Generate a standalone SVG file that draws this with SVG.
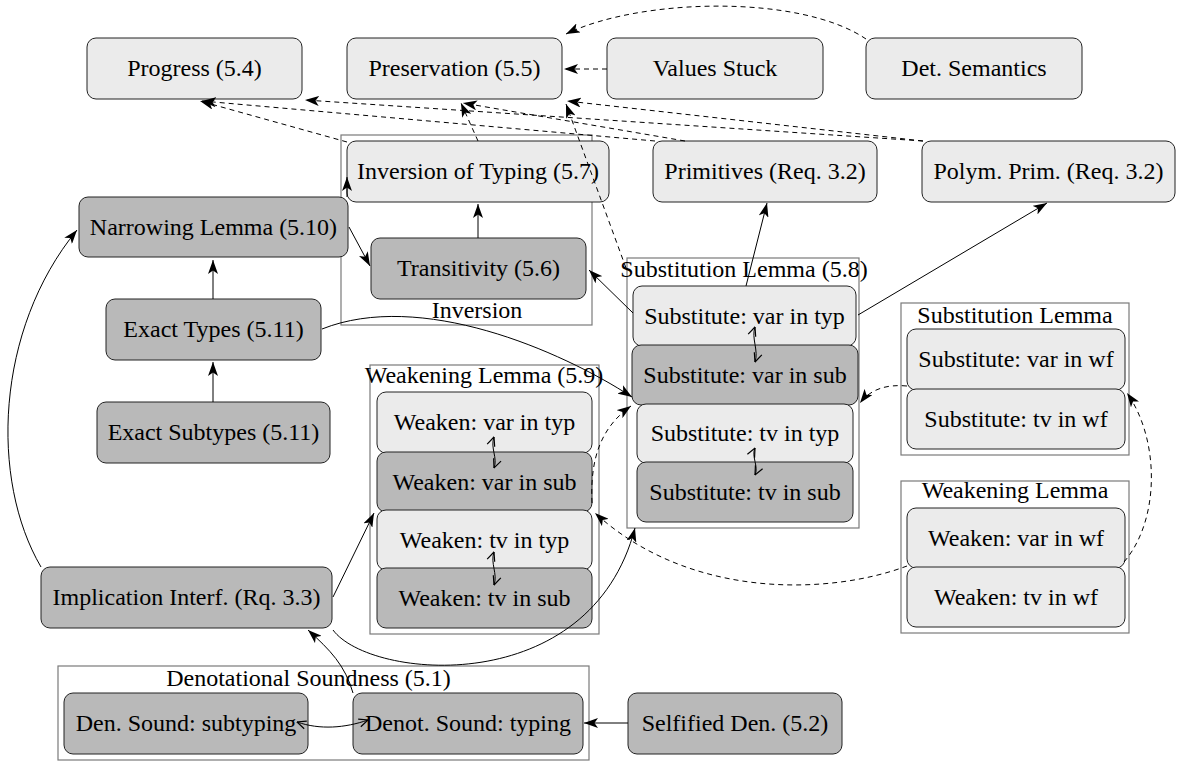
<svg xmlns="http://www.w3.org/2000/svg" width="1177" height="761" viewBox="0 0 1177 761">
<style>
text{font-family:"Liberation Serif","Times New Roman",serif;font-size:24px;fill:#000;text-anchor:middle}
.n rect{stroke:#222;stroke-width:1}
.l rect{fill:#ebebeb}
.k rect{fill:#b9b9b9}
.c{fill:none;stroke:#7a7a7a;stroke-width:1.2}
.e path{fill:none;stroke:#000;stroke-width:1}
.e .d{stroke-dasharray:5,4;marker-end:url(#ah)}
.e .s{marker-end:url(#ah)}
.e .b{marker-start:url(#vee);marker-end:url(#vee)}
</style>
<defs>
<marker id="ah" viewBox="0 0 14 10" refX="14" refY="5" markerWidth="14" markerHeight="10" orient="auto" markerUnits="userSpaceOnUse"><path d="M0,0 L14,5 L0,10 L3.5,5 z" fill="#000"/></marker>
<marker id="vee" viewBox="0 0 10 10" refX="9.5" refY="5" markerWidth="10" markerHeight="10" orient="auto-start-reverse" markerUnits="userSpaceOnUse"><path d="M0.5,1 L9.5,5 L0.5,9" fill="none" stroke="#000" stroke-width="1.2"/></marker>
</defs>
<rect width="1177" height="761" fill="#fff"/>
<g id="clusters">
<g id="cl-inversion"><rect class="c" x="341" y="135" width="251" height="190"/><text x="477" y="318">Inversion</text></g>
<g id="cl-weak59"><rect class="c" x="370" y="365" width="229" height="269"/><text x="484" y="383">Weakening Lemma (5.9)</text></g>
<g id="cl-subst58"><rect class="c" x="627" y="258" width="232" height="270"/><text x="744" y="277">Substitution Lemma (5.8)</text></g>
<g id="cl-subst"><rect class="c" x="901" y="303" width="228" height="152"/><text x="1015" y="323">Substitution Lemma</text></g>
<g id="cl-weak"><rect class="c" x="901" y="481" width="228" height="152"/><text x="1015" y="498">Weakening Lemma</text></g>
<g id="cl-denot"><rect class="c" x="58" y="666" width="531" height="94"/><text x="308.5" y="686">Denotational Soundness (5.1)</text></g>
</g>
<g id="nodes">
<g id="progress" class="n l"><rect x="87" y="38" width="215" height="61" rx="9"/><text x="194.5" y="76">Progress (5.4)</text></g>
<g id="preservation" class="n l"><rect x="347" y="38" width="215" height="61" rx="9"/><text x="454.5" y="76">Preservation (5.5)</text></g>
<g id="values-stuck" class="n l"><rect x="607" y="38" width="216" height="61" rx="9"/><text x="715" y="76">Values Stuck</text></g>
<g id="det-sem" class="n l"><rect x="866" y="38" width="216" height="61" rx="9"/><text x="974" y="76">Det. Semantics</text></g>
<g id="inv-typing" class="n l"><rect x="347" y="141" width="262" height="61" rx="9"/><text x="478" y="179">Inversion of Typing (5.7)</text></g>
<g id="primitives" class="n l"><rect x="653" y="141" width="224" height="61" rx="9"/><text x="765" y="179">Primitives (Req. 3.2)</text></g>
<g id="polym-prim" class="n l"><rect x="922" y="141" width="253" height="61" rx="9"/><text x="1048.5" y="179">Polym. Prim. (Req. 3.2)</text></g>
<g id="narrowing" class="n k"><rect x="79" y="197" width="269" height="60" rx="9"/><text x="213.5" y="234.5">Narrowing Lemma (5.10)</text></g>
<g id="transitivity" class="n k"><rect x="371" y="238" width="215" height="61" rx="9"/><text x="478.5" y="276">Transitivity (5.6)</text></g>
<g id="exact-types" class="n k"><rect x="106" y="299" width="215" height="61" rx="9"/><text x="213.5" y="337">Exact Types (5.11)</text></g>
<g id="exact-subtypes" class="n k"><rect x="97" y="402" width="233" height="61" rx="9"/><text x="213.5" y="440">Exact Subtypes (5.11)</text></g>
<g id="implication" class="n k"><rect x="41" y="567" width="291" height="61" rx="9"/><text x="186.5" y="605">Implication Interf. (Rq. 3.3)</text></g>
<g id="weaken-var-typ" class="n l"><rect x="377" y="392" width="215" height="61" rx="9"/><text x="484.5" y="430">Weaken: var in typ</text></g>
<g id="weaken-var-sub" class="n k"><rect x="377" y="452" width="215" height="60" rx="9"/><text x="484.5" y="489.5">Weaken: var in sub</text></g>
<g id="weaken-tv-typ" class="n l"><rect x="377" y="510" width="215" height="60" rx="9"/><text x="484.5" y="547.5">Weaken: tv in typ</text></g>
<g id="weaken-tv-sub" class="n k"><rect x="377" y="568" width="215" height="60" rx="9"/><text x="484.5" y="605.5">Weaken: tv in sub</text></g>
<g id="subst-var-typ" class="n l"><rect x="633" y="286" width="223" height="60" rx="9"/><text x="744.5" y="323.5">Substitute: var in typ</text></g>
<g id="subst-var-sub" class="n k"><rect x="632" y="345" width="226" height="60" rx="9"/><text x="745" y="382.5">Substitute: var in sub</text></g>
<g id="subst-tv-typ" class="n l"><rect x="637" y="404" width="216" height="59" rx="9"/><text x="745" y="441">Substitute: tv in typ</text></g>
<g id="subst-tv-sub" class="n k"><rect x="637" y="462" width="216" height="60" rx="9"/><text x="745" y="499.5">Substitute: tv in sub</text></g>
<g id="subst-var-wf" class="n l"><rect x="907" y="329" width="218" height="61" rx="9"/><text x="1016" y="367">Substitute: var in wf</text></g>
<g id="subst-tv-wf" class="n l"><rect x="907" y="389" width="218" height="60" rx="9"/><text x="1016" y="426.5">Substitute: tv in wf</text></g>
<g id="weaken-var-wf" class="n l"><rect x="907" y="508" width="218" height="60" rx="9"/><text x="1016" y="545.5">Weaken: var in wf</text></g>
<g id="weaken-tv-wf" class="n l"><rect x="907" y="567" width="218" height="60" rx="9"/><text x="1016" y="604.5">Weaken: tv in wf</text></g>
<g id="den-subtyping" class="n k"><rect x="64" y="693" width="244" height="61" rx="9"/><text x="186" y="731">Den. Sound: subtyping</text></g>
<g id="denot-typing" class="n k"><rect x="353" y="693" width="230" height="61" rx="9"/><text x="468" y="731">Denot. Sound: typing</text></g>
<g id="selfified" class="n k"><rect x="628" y="693" width="214" height="61" rx="9"/><text x="735" y="731">Selfified Den. (5.2)</text></g>
</g>
<g id="connectors" class="e">
<path class="d" d="M866,39 C800,-6 640,-2 566,34"/>
<path class="d" d="M607,69 L564,69"/>
<path class="d" d="M347,142 L200,101"/>
<path class="d" d="M655,141 L202,101"/>
<path class="d" d="M923,141 L305,100"/>
<path class="d" d="M478,141 L461,103"/>
<path class="d" d="M685,141 L463,103"/>
<path class="d" d="M923,141 L567,101"/>
<path class="d" d="M626,268 L566,104"/>
<path class="d" d="M592,503 C590,460 600,428 631,406"/>
<path class="d" d="M907,386 C885,384 870,390 860,403"/>
<path class="d" d="M907,566 C830,595 690,600 595,513"/>
<path class="d" d="M1124,562 C1160,520 1160,440 1127,393"/>
<path class="s" d="M478,238 L478,204"/>
<path class="s" d="M347,197 L347,177"/>
<path class="s" d="M349,227 L370,266"/>
<path class="s" d="M213,299 L213,260"/>
<path class="s" d="M213,402 L213,362"/>
<path class="s" d="M41,567 C-10,480 -5,330 77,230"/>
<path class="s" d="M333,597 L374,513"/>
<path class="s" d="M333,630 C370,680 590,700 635,528"/>
<path class="s" d="M353,693 C345,665 330,650 308,630"/>
<path class="s" d="M628,723 L584,723"/>
<path class="s" d="M633,313 L589,270"/>
<path class="s" d="M746,286 L767,203"/>
<path class="s" d="M858,315 L1047,203"/>
<path class="s" d="M322,329 C420,290 560,350 632,397"/>
<path class="b" d="M297,722 C320,730 345,728 368,720"/>
<path class="b" d="M494,437 C490,448 498,458 494,468"/>
<path class="b" d="M494,552 C490,563 498,574 494,585"/>
<path class="b" d="M755,327 C751,338 759,351 755,362"/>
<path class="b" d="M755,448 C751,456 759,467 755,475"/>
</g>
</svg>
